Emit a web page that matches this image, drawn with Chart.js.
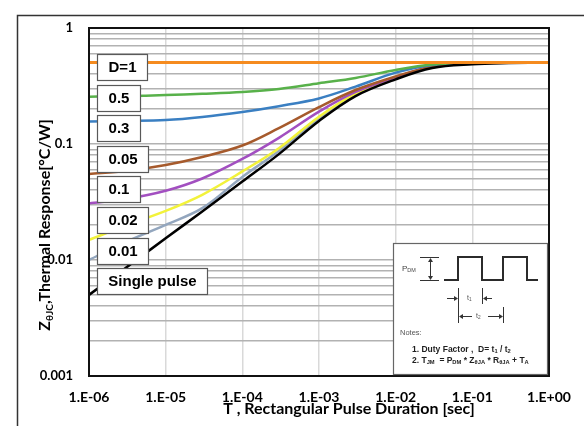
<!DOCTYPE html>
<html>
<head>
<meta charset="utf-8">
<script src="https://cdn.jsdelivr.net/npm/chart.js@4.4.1/dist/chart.umd.min.js"></script>
<style>
  html, body { margin: 0; padding: 0; background: #fff; }
  #chart { display: block; }
</style>
</head>
<body>
<canvas id="chart" width="584" height="426"></canvas>
<script>
// pulse durations (sec) shared by every curve
var pulseTimes = [1e-6, 3e-6, 1e-5, 3e-5, 1e-4, 3e-4, 1e-3, 3e-3, 1e-2, 3e-2, 1e-1, 3e-1, 1];

// thermal response Z (°C/W) for each duty factor
var zD1     = [0.505, 0.505, 0.505, 0.505, 0.505, 0.505, 0.505, 0.505, 0.505, 0.505, 0.505, 0.505, 0.505];
var zD05    = [0.256, 0.259, 0.264, 0.271, 0.281, 0.298, 0.334, 0.371, 0.435, 0.485, 0.503, 0.505, 0.505];
var zD03    = [0.156, 0.158, 0.161, 0.171, 0.189, 0.212, 0.247, 0.312, 0.412, 0.480, 0.503, 0.505, 0.505];
var zD005   = [0.0551, 0.0585, 0.0659, 0.0773, 0.097, 0.137, 0.208, 0.292, 0.382, 0.467, 0.500, 0.505, 0.505];
var zD01    = [0.0307, 0.0335, 0.0395, 0.0504, 0.0743, 0.113, 0.190, 0.281, 0.375, 0.466, 0.500, 0.505, 0.505];
var zD002   = [0.0149, 0.0198, 0.0265, 0.0365, 0.058, 0.092, 0.172, 0.272, 0.371, 0.461, 0.498, 0.505, 0.505];
var zD001   = [0.0100, 0.0143, 0.0201, 0.028, 0.052, 0.087, 0.165, 0.270, 0.369, 0.461, 0.496, 0.505, 0.505];
var zSingle = [0.0050, 0.00853, 0.0154, 0.0262, 0.0474, 0.0818, 0.158, 0.259, 0.361, 0.452, 0.487, 0.499, 0.505];

var curveLabels = ['D=1', '0.5', '0.3', '0.05', '0.1', '0.02', '0.01', 'Single pulse'];
var curveValues = [zD1, zD05, zD03, zD005, zD01, zD002, zD001, zSingle];
var curveColors = ['#f58b1f', '#58b14a', '#3a7fc2', '#a65a2c', '#a24fc0', '#f2f23a', '#93a6be', '#000000'];

var xTickValues = [1e-6, 1e-5, 1e-4, 1e-3, 1e-2, 1e-1, 1];
var xTickLabels = ['1.E-06', '1.E-05', '1.E-04', '1.E-03', '1.E-02', '1.E-01', '1.E+00'];
var yDecades = [0.001, 0.01, 0.1, 1];
var yTickLabels = ['0.001', '0.01', '0.1', '1'];

var ctx = document.getElementById('chart');

// build the datasets, orange on top, then the single pulse curve
var datasets = curveValues.map(function (values, i) {
  return {
    label: curveLabels[i],
    data: pulseTimes.map(function (t, j) { return { x: t, y: values[j] }; }),
    borderColor: curveColors[i],
    borderWidth: i === 0 ? 3 : 2.5,
    pointRadius: 0,
    fill: false,
    tension: 0.35,
    order: i === 0 ? 0 : (i === 7 ? 1 : i + 1)
  };
});

// draws text made of normal and subscript pieces, returns its width
function richText(c, parts, x, y, size, weight) {
  var w = 0;
  for (var i = 0; i < parts.length; i++) {
    var sub = parts[i][1];
    var s = sub ? size * 0.68 : size;
    c.font = weight + ' ' + s + 'px "Liberation Sans", Arial, sans-serif';
    c.fillText(parts[i][0], x + w, y + (sub ? size * 0.22 : 0));
    w += c.measureText(parts[i][0]).width;
  }
  return w;
}

function arrow(c, x1, y1, x2, y2) {
  var dir = x2 > x1 ? 1 : -1;
  c.beginPath();
  c.moveTo(x1, y1);
  c.lineTo(x2 - dir * 3, y2);
  c.stroke();
  c.beginPath();
  c.moveTo(x2, y2);
  c.lineTo(x2 - dir * 4, y2 - 2.5);
  c.lineTo(x2 - dir * 4, y2 + 2.5);
  c.closePath();
  c.fill();
}

function drawInset(c, a) {
  var bw = 154, bh = 131;
  var bx = a.right - bw - 2, by = a.bottom - bh - 2;
  c.fillStyle = '#fff';
  c.fillRect(bx, by, bw, bh);
  c.strokeStyle = '#666';
  c.lineWidth = 1.2;
  c.strokeRect(bx + 0.5, by + 0.5, bw, bh);

  c.fillStyle = '#444';
  c.textBaseline = 'middle';
  c.textAlign = 'left';
  richText(c, [['P', false], ['DM', true]], bx + 9, by + 26, 8, 'normal');

  // pulse height marker
  c.strokeStyle = '#333';
  c.lineWidth = 1;
  c.beginPath();
  c.moveTo(bx + 27, by + 14.5); c.lineTo(bx + 46, by + 14.5);
  c.moveTo(bx + 27, by + 37.5); c.lineTo(bx + 46, by + 37.5);
  c.moveTo(bx + 37.5, by + 16); c.lineTo(bx + 37.5, by + 36);
  c.stroke();
  c.fillStyle = '#333';
  c.beginPath();
  c.moveTo(bx + 37.5, by + 15); c.lineTo(bx + 35, by + 19); c.lineTo(bx + 40, by + 19); c.closePath();
  c.moveTo(bx + 37.5, by + 37); c.lineTo(bx + 35, by + 33); c.lineTo(bx + 40, by + 33); c.closePath();
  c.fill();

  // pulse train
  c.lineWidth = 2;
  c.strokeStyle = '#2b2b2b';
  c.beginPath();
  c.moveTo(bx + 51, by + 37); c.lineTo(bx + 65, by + 37); c.lineTo(bx + 65, by + 14);
  c.lineTo(bx + 89, by + 14); c.lineTo(bx + 89, by + 37); c.lineTo(bx + 110, by + 37);
  c.lineTo(bx + 110, by + 14); c.lineTo(bx + 134, by + 14); c.lineTo(bx + 134, by + 37);
  c.lineTo(bx + 145, by + 37);
  c.stroke();

  // t1 / t2 dimension arrows
  c.lineWidth = 1;
  c.strokeStyle = '#333';
  c.beginPath();
  c.moveTo(bx + 65.5, by + 45); c.lineTo(bx + 65.5, by + 80);
  c.moveTo(bx + 89.5, by + 45); c.lineTo(bx + 89.5, by + 61);
  c.moveTo(bx + 110.5, by + 64); c.lineTo(bx + 110.5, by + 80);
  c.stroke();
  arrow(c, bx + 54, by + 55.5, bx + 65, by + 55.5);
  arrow(c, bx + 99, by + 55.5, bx + 90, by + 55.5);
  arrow(c, bx + 79, by + 73.5, bx + 66, by + 73.5);
  arrow(c, bx + 95, by + 73.5, bx + 110, by + 73.5);
  c.fillStyle = '#555';
  richText(c, [['t', false], ['1', true]], bx + 74, by + 55, 7, 'normal');
  richText(c, [['t', false], ['2', true]], bx + 83, by + 73, 7, 'normal');

  // notes
  richText(c, [['Notes:', false]], bx + 7, by + 90, 7.5, 'normal');
  c.fillStyle = '#1e1e1e';
  richText(c, [['1. Duty Factor ,  D= t', false], ['1', true], [' / t', false], ['2', true]],
    bx + 19, by + 107, 8.5, 'bold');
  richText(c, [['2. T', false], ['JM', true], ['  = P', false], ['DM', true], [' * Z', false], ['\u03b8JA', true],
    [' * R', false], ['\u03b8JA', true], [' + T', false], ['A', true]],
    bx + 19, by + 118, 8.5, 'bold');
}

var decorations = {
  id: 'decorations',
  beforeDraw: function (chart) {
    var c = chart.ctx;
    c.save();
    c.strokeStyle = '#333';
    c.lineWidth = 1.5;
    c.strokeRect(17.5, 15.5, chart.width, chart.height);
    c.restore();
  },
  afterDatasetsDraw: function (chart) {
    var c = chart.ctx;
    var a = chart.chartArea;
    c.save();
    // plot frame
    c.strokeStyle = '#111';
    c.lineWidth = 2;
    c.strokeRect(a.left, a.top, a.right - a.left, a.bottom - a.top);

    // curve tags down the left side
    c.font = 'bold 15px "Liberation Sans", Arial, sans-serif';
    c.textAlign = 'center';
    c.textBaseline = 'middle';
    for (var i = 0; i < curveLabels.length; i++) {
      var tw = c.measureText(curveLabels[i]).width;
      var w = Math.max(36, Math.round(tw + 22));
      var x = a.left + 8;
      var y = Math.round(a.top + 26 + i * 30.6);
      c.fillStyle = '#fff';
      c.fillRect(x, y, w, 26);
      c.strokeStyle = '#595959';
      c.lineWidth = 1.2;
      c.strokeRect(x + 0.5, y + 0.5, w, 26);
      c.fillStyle = '#000';
      c.fillText(curveLabels[i], x + w / 2 + 0.5, y + 14);
    }

    drawInset(c, a);
    c.restore();
  },
  afterDraw: function (chart) {
    var c = chart.ctx;
    var a = chart.chartArea;
    c.save();
    c.fillStyle = '#000';
    c.textBaseline = 'alphabetic';
    c.textAlign = 'left';

    // x axis title
    c.font = 'bold 16px Lato, sans-serif';
    var xt = 'T , Rectangular Pulse Duration [sec]';
    var xw = c.measureText(xt).width;
    c.fillText(xt, (a.left + a.right) / 2 + 30 - xw / 2, 414);

    // y axis title with subscript
    c.translate(50, (a.top + a.bottom) / 2 + 23);
    c.rotate(-Math.PI / 2);
    var parts = [['Z', 16], ['\u03b8JC', 10], [',Thermal Response[\u00b0C/W]', 16]];
    var total = 0;
    parts.forEach(function (p) {
      c.font = 'bold ' + p[1] + 'px Lato, sans-serif';
      total += c.measureText(p[0]).width;
    });
    var px = -total / 2;
    parts.forEach(function (p) {
      c.font = 'bold ' + p[1] + 'px Lato, sans-serif';
      c.fillText(p[0], px, p[1] < 16 ? 3 : 0);
      px += c.measureText(p[0]).width;
    });
    c.restore();
  }
};

var chart = new Chart(ctx, {
  type: 'line',
  data: { datasets: datasets },
  options: {
    responsive: false,
    animation: false,
    layout: { padding: { top: 28, right: 35, bottom: 0, left: 0 } },
    plugins: {
      legend: { display: false },
      tooltip: { enabled: false }
    },
    scales: {
      x: {
        type: 'logarithmic',
        min: 1e-6,
        max: 1,
        afterBuildTicks: function (scale) {
          scale.ticks = xTickValues.map(function (v) { return { value: v }; });
        },
        afterFit: function (scale) { scale.height = 50; },
        grid: { color: '#d9d9d9', lineWidth: 1.5, drawTicks: false },
        border: { display: false },
        ticks: {
          autoSkip: false,
          maxRotation: 0,
          padding: 13,
          color: '#000',
          font: { family: 'Lato', weight: 'bold', size: 14 },
          callback: function (value) {
            var i = xTickValues.indexOf(value);
            return i >= 0 ? xTickLabels[i] : '';
          }
        }
      },
      y: {
        type: 'logarithmic',
        min: 0.001,
        max: 1,
        afterBuildTicks: function (scale) {
          // gridline at every 1..9 step of each decade
          var ticks = [];
          for (var d = 0; d < yDecades.length - 1; d++) {
            for (var m = 1; m <= 9; m++) ticks.push({ value: yDecades[d] * m });
          }
          ticks.push({ value: yDecades[yDecades.length - 1] });
          scale.ticks = ticks;
        },
        afterFit: function (scale) { scale.width = 89; },
        grid: { color: '#b2b2b2', lineWidth: 1.5, drawTicks: false },
        border: { display: false },
        ticks: {
          autoSkip: false,
          padding: 16,
          color: '#000',
          font: { family: 'Lato', weight: 'bold', size: 13 },
          callback: function (value) {
            for (var i = 0; i < yDecades.length; i++) {
              if (Math.abs(value - yDecades[i]) < yDecades[i] * 1e-6) return yTickLabels[i];
            }
            return '';
          }
        }
      }
    }
  },
  plugins: [decorations]
});
</script>
</body>
</html>
